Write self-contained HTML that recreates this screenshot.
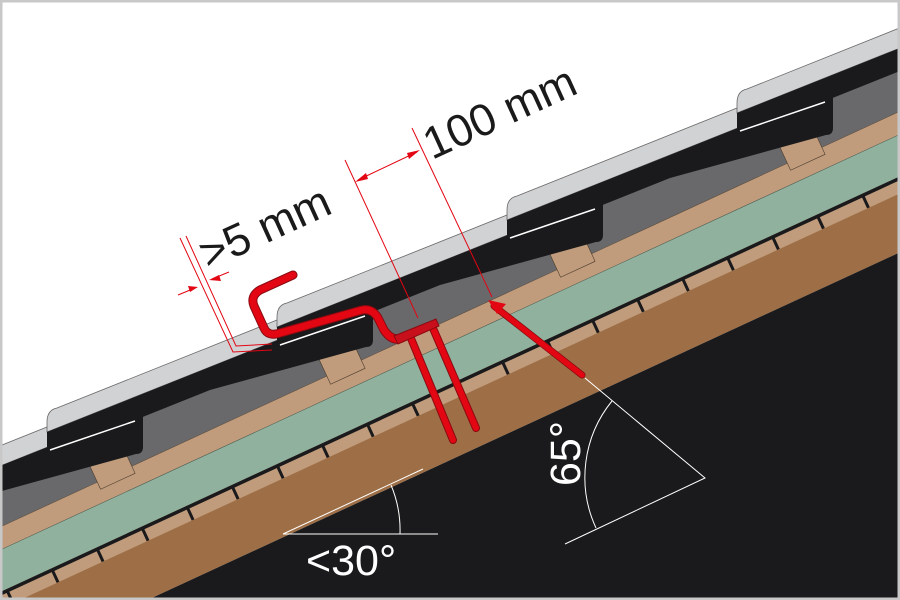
<!DOCTYPE html>
<html><head><meta charset="utf-8"><style>
html,body{margin:0;padding:0;background:#fff;width:900px;height:600px;overflow:hidden;}
svg{display:block;}
</style></head><body>
<svg width="900" height="600" viewBox="0 0 900 600" xmlns="http://www.w3.org/2000/svg">
<defs>
<clipPath id="c"><rect x="0" y="0" width="900" height="600"/></clipPath>
</defs>
<g clip-path="url(#c)">
<rect width="900" height="600" fill="#fff"/>
<g transform="rotate(-24.8)">
  <rect x="-400" y="413" width="1900" height="70" fill="#69696b"/>
  <rect x="-400" y="478.5" width="1900" height="21" fill="#c09c7c" stroke="#5a4a3a" stroke-width="0.5"/>
  <rect x="-400" y="499.4" width="1900" height="38.5" fill="#8fb19d" stroke="#4a5a50" stroke-width="0.5"/>
  <rect x="-400" y="537.5" width="1900" height="16" fill="#c09c7c"/>
  <rect x="-400" y="537.5" width="1900" height="3.5" fill="#1a191b"/>
  <g stroke="#1a191b" stroke-width="3">
    <path d="M-390,540v13 M-340.4,540v13 M-290.8,540v13 M-241.2,540v13 M-191.6,540v13 M-142,540v13 M-92.4,540v13 M-42.8,540v13 M6.8,540v13 M56.4,540v13 M106,540v13 M155.6,540v13 M205.2,540v13 M254.8,540v13 M304.4,540v13 M354,540v13 M403.6,540v13 M453.2,540v13 M502.8,540v13 M552.4,540v13 M602,540v13 M651.6,540v13 M701.2,540v13 M750.8,540v13 M800.4,540v13 M850,540v13 M899.6,540v13 M949.2,540v13 M998.8,540v13 M1048.4,540v13 M1098,540v13 M1147.6,540v13 M1197.2,540v13 M1246.8,540v13"/>
  </g>
  <rect x="-400" y="553" width="1900" height="53.5" fill="#9e6f46"/>
  <rect x="-400" y="606.5" width="1900" height="400" fill="#1a191b"/>
</g>
<g fill="#c09c7c" stroke="#4a3a2a" stroke-width="0.6">
  <rect transform="translate(88,462) rotate(-24.8)" width="38" height="30"/>
  <rect transform="translate(318,357) rotate(-24.8)" width="38" height="30"/>
  <rect transform="translate(548,250) rotate(-24.8)" width="38" height="30"/>
  <rect transform="translate(778,143) rotate(-24.8)" width="38" height="30"/>
</g>
<g>
<g transform="translate(-183,519)">
  <path d="M0,20 L0,10 Q0,-2 10,-4 L326,-130.4 L326,-110 Z" fill="#d1d2d4" stroke="#666" stroke-width="0.8"/>
  <path d="M0,20 L326,-110 L326,-72 Q326,-65 319,-65 L163,-22 L8,40 Q0,42 0,34 Z" fill="#1a191b"/>
  <path d="M3,38 L88,9" stroke="#fff" stroke-width="1.5"/>
</g>
<g transform="translate(47,412)">
  <path d="M0,20 L0,10 Q0,-2 10,-4 L326,-130.4 L326,-110 Z" fill="#d1d2d4" stroke="#666" stroke-width="0.8"/>
  <path d="M0,20 L326,-110 L326,-72 Q326,-65 319,-65 L163,-22 L8,40 Q0,42 0,34 Z" fill="#1a191b"/>
  <path d="M3,38 L88,9" stroke="#fff" stroke-width="1.5"/>
</g>
<g transform="translate(277,307)">
  <path d="M0,20 L0,10 Q0,-2 10,-4 L326,-130.4 L326,-110 Z" fill="#d1d2d4" stroke="#666" stroke-width="0.8"/>
  <path d="M0,20 L326,-110 L326,-72 Q326,-65 319,-65 L163,-22 L8,40 Q0,42 0,34 Z" fill="#1a191b"/>
  <path d="M3,38 L88,9" stroke="#fff" stroke-width="1.5"/>
</g>
<g transform="translate(507,200)">
  <path d="M0,20 L0,10 Q0,-2 10,-4 L326,-130.4 L326,-110 Z" fill="#d1d2d4" stroke="#666" stroke-width="0.8"/>
  <path d="M0,20 L326,-110 L326,-72 Q326,-65 319,-65 L163,-22 L8,40 Q0,42 0,34 Z" fill="#1a191b"/>
  <path d="M3,38 L88,9" stroke="#fff" stroke-width="1.5"/>
</g>
<g transform="translate(737,93)">
  <path d="M0,20 L0,10 Q0,-2 10,-4 L326,-130.4 L326,-110 Z" fill="#d1d2d4" stroke="#666" stroke-width="0.8"/>
  <path d="M0,20 L326,-110 L326,-72 Q326,-65 319,-65 L163,-22 L8,40 Q0,42 0,34 Z" fill="#1a191b"/>
  <path d="M3,38 L88,9" stroke="#fff" stroke-width="1.5"/>
</g>
</g>
<g stroke="#e30613" stroke-width="1" fill="none">
  <path d="M345,160 L418,318"/>
  <path d="M412,128 L492,297"/>
  <path d="M358,180 L417,152"/>
  <path d="M180,238 L233,352 L272,350"/>
  <path d="M186,236 L236,346 L272,344"/>
  <path d="M178,295 L195,288"/>
  <path d="M229,272 L212,279"/>
</g>
<g fill="#e30613">
  <path d="M355,182 L366,173 L368,179 Z"/>
  <path d="M420,150 L409,159 L407,153 Z"/>
  <path d="M198,287 L188,286 L190,292 Z"/>
  <path d="M209,280 L219,275 L221,281 Z"/>
</g>
<g fill="none" stroke-linecap="round" stroke-linejoin="round">
  <path d="M293,275 L260,290 Q250,296 254,306 L264,328 Q268,337 280,333 L362,310 Q372,308 378,318 L384,330 Q392,342 402,338" stroke="#8a0a10" stroke-width="9"/>
  <path d="M293,275 L260,290 Q250,296 254,306 L264,328 Q268,337 280,333 L362,310 Q372,308 378,318 L384,330 Q392,342 402,338" stroke="#e30613" stroke-width="7"/>
  <path d="M410,336 L453,440 M432,326 L476,428" stroke="#8a0a10" stroke-width="8"/>
  <path d="M410,336 L453,440 M432,326 L476,428" stroke="#e30613" stroke-width="6"/>
  <path d="M494,306 L582,375" stroke="#8a0a10" stroke-width="7"/>
  <path d="M494,306 L582,375" stroke="#e30613" stroke-width="5.5"/>
</g>
<path d="M394,336 L436,319 L439,326 L398,344 Z" fill="#c8101c" stroke="#8a0a10" stroke-width="1"/>
<path d="M488,300 L506,304 L497,314 Z" fill="#e30613"/>
<g stroke="#fff" stroke-width="1" fill="none">
  <path d="M283,534 L438,534"/>
  <path d="M283,534 L423,469"/>
  <path d="M400,534 A117,117 0 0 0 391,485"/>
  <path d="M585,378 L705,478 L565,544"/>
  <path d="M612,401 A121,121 0 0 0 596,528"/>
</g>
<g font-family="'Liberation Sans',sans-serif">
  <text transform="translate(432,160) rotate(-24.5)" font-size="45" fill="#1a1a1a">100 mm</text>
  <text transform="translate(208,270) rotate(-24.5)" font-size="45" fill="#1a1a1a">&gt;5 mm</text>
  <text x="306" y="575" font-size="43" fill="#fff">&lt;30°</text>
  <text transform="translate(580,486) rotate(-90)" font-size="43" fill="#fff">65°</text>
</g>
</g>
<rect x="1" y="1" width="898" height="598" fill="none" stroke="#c8c8c8" stroke-width="3"/>
</svg>
</body></html>
